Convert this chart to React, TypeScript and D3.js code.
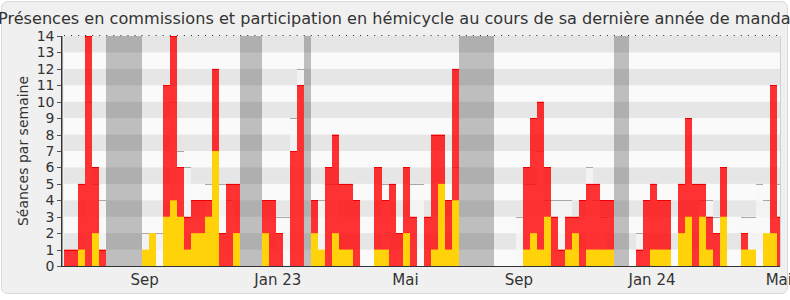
import React from "react";
import * as d3 from "d3";

const presence = [1,1,5,14,6,1,0,0,0,0, 0,0,0,0,11,14,6,3,4,4, 4,12,2,5,5,0,0,0,4,4, 2,0,7,11,0,4,0,6,8,5, 5,4,0,0,6,4,5,2,6,3, 0,3,8,8,4,12,0,0,0,0, 0,0,0,0,0,6,9,10,6,3, 1,3,3,4,5,5,4,4,0,0, 0,1,4,5,4,4,0,5,9,5, 5,3,2,6,0,0,2,0,0,0, 11,3];
const participation = [0,0,1,0,2,0,0,0,0,0, 0,1,2,0,3,4,3,1,2,2, 3,7,0,0,2,0,0,0,2,0, 0,0,0,0,0,2,1,0,2,1, 1,0,0,0,1,1,0,0,2,0, 0,0,1,5,1,4,0,0,0,0, 0,0,0,0,0,1,2,1,3,0, 0,1,2,0,1,1,1,1,0,0, 0,0,0,1,1,1,0,2,3,0, 3,1,0,3,0,0,1,1,0,2, 2,0];
const median = [0,0,0,10,5,4,0,0,0,0, 0,2,2,2,0,10,7,6,0,0, 5,0,5,4,0,0,0,0,0,0, 3,3,9,12,0,0,4,5,5,0, 0,0,0,0,0,5,0,0,0,5, 5,0,0,0,0,6,0,0,0,0, 0,0,0,0,3,5,5,7,4,4, 4,4,0,0,6,4,3,0,0,0, 0,2,0,0,0,0,0,0,0,0, 4,4,3,0,0,0,3,3,5,4, 0,5];
const vacationWeeks = [6,7,8,9,10,25,26,27,34,56,57,58,59,60,78,79];
const xTickLabels = ["Sep","Jan 23","Mai","Sep","Jan 24","Mai"];
const xTickWeeks = [11.44, 30.3, 48.4, 64.46, 83.33, 101.3];
const yTicks = d3.range(0, 15);

const title = "Présences en commissions et participation en hémicycle au cours de sa dernière année de mandat";
const yTitle = "Séances par semaine";

export default function App() {
  const W = 790, H = 300;
  const left = 64, right = 780, top = 36, bottom = 266;
  const x = d3.scaleLinear().domain([0, 101.47]).range([left, right]);
  const y = d3.scaleLinear().domain([0, 14]).range([bottom, top]);
  const font = "'DejaVu Sans', Verdana, sans-serif";
  const bx = (i: number) => Math.round(x(i));
  const weeks = d3.range(presence.length);
  return (
    <svg width={W} height={H} style={{ position: "absolute", left: 0, top: 0, display: "block" }} fontFamily={font}>
      <defs>
        <clipPath id="plot"><rect x={left} y={top} width={right - left} height={bottom - top} /></clipPath>
      </defs>
      <rect x={0} y={0} width={W} height={H} fill="#ffffff" />
      <rect x={1.5} y={1.5} width={786} height={292} rx={6} fill="#f0f0f0" stroke="#d8d8d8" />
      <g clipPath="url(#plot)">
        <rect x={left} y={top} width={right - left} height={bottom - top} fill="#fafafa" />
        {vacationWeeks.map((w) => (
          <rect key={"v" + w} x={bx(w)} y={top} width={bx(w + 1) - bx(w)} height={bottom - top} fill="#bebebe" />
        ))}
        {yTicks.filter((t) => t % 2 === 1).map((t) => (
          <rect key={"s" + t} x={left} y={y(t + 1)} width={right - left} height={y(t) - y(t + 1)} fill="rgba(0,0,0,0.08)" />
        ))}
        {weeks.filter((i) => median[i] > 0).map((i) => (
          <g key={"m" + i}>
            <rect x={bx(i)} y={y(median[i])} width={bx(i + 1) - bx(i)} height={bottom - y(median[i])} fill="rgba(248,248,248,0.7)" />
            <line x1={bx(i)} x2={bx(i + 1)} y1={Math.round(y(median[i])) + 0.5} y2={Math.round(y(median[i])) + 0.5} stroke="#a8a8a8" />
          </g>
        ))}
        {weeks.filter((i) => presence[i] > 0).map((i) => (
          <g key={"p" + i}>
            <rect x={bx(i)} y={y(presence[i])} width={bx(i + 1) - bx(i)} height={bottom - y(presence[i])} fill="rgba(255,0,0,0.8)" />
            <line x1={bx(i)} x2={bx(i + 1)} y1={Math.round(y(presence[i])) + 0.5} y2={Math.round(y(presence[i])) + 0.5} stroke="#ee0000" />
          </g>
        ))}
        {weeks.filter((i) => participation[i] > 0).map((i) => (
          <rect key={"y" + i} x={bx(i)} y={y(participation[i])} width={bx(i + 1) - bx(i)} height={bottom - y(participation[i])} fill="#ffd20a" />
        ))}
      </g>
      <line x1={right + 0.5} x2={right + 0.5} y1={top} y2={bottom} stroke="#d0d0d0" />
      <line x1={left} x2={right} y1={top - 0.5} y2={top - 0.5} stroke="#222" strokeDasharray="1 6.05" />
      <line x1={61.5} x2={61.5} y1={top} y2={bottom} stroke="#333" />
      <line x1={62.5} x2={62.5} y1={top} y2={bottom} stroke="#9a9a9a" />
      <line x1={57} x2={right} y1={bottom + 0.5} y2={bottom + 0.5} stroke="#333" />
      {yTicks.map((t) => (
        <g key={"t" + t}>
          <line x1={57} x2={61} y1={Math.round(y(t)) + 0.5} y2={Math.round(y(t)) + 0.5} stroke="#555" />
          <text x={54.5} y={y(t)} dy="0.36em" textAnchor="end" fontSize={14} fill="#333">{t}</text>
        </g>
      ))}
      {xTickLabels.map((l, k) => (
        <text key={"x" + k} x={x(xTickWeeks[k])} y={284.5} textAnchor="middle" fontSize={15} fill="#333">{l}</text>
      ))}
      <text transform="translate(28,151) rotate(-90)" textAnchor="middle" fontSize={14} fill="#333">{yTitle}</text>
      <text x={-2} y={24} fontSize={16} fill="#333" textLength={799} lengthAdjust="spacingAndGlyphs">{title}</text>
    </svg>
  );
}
